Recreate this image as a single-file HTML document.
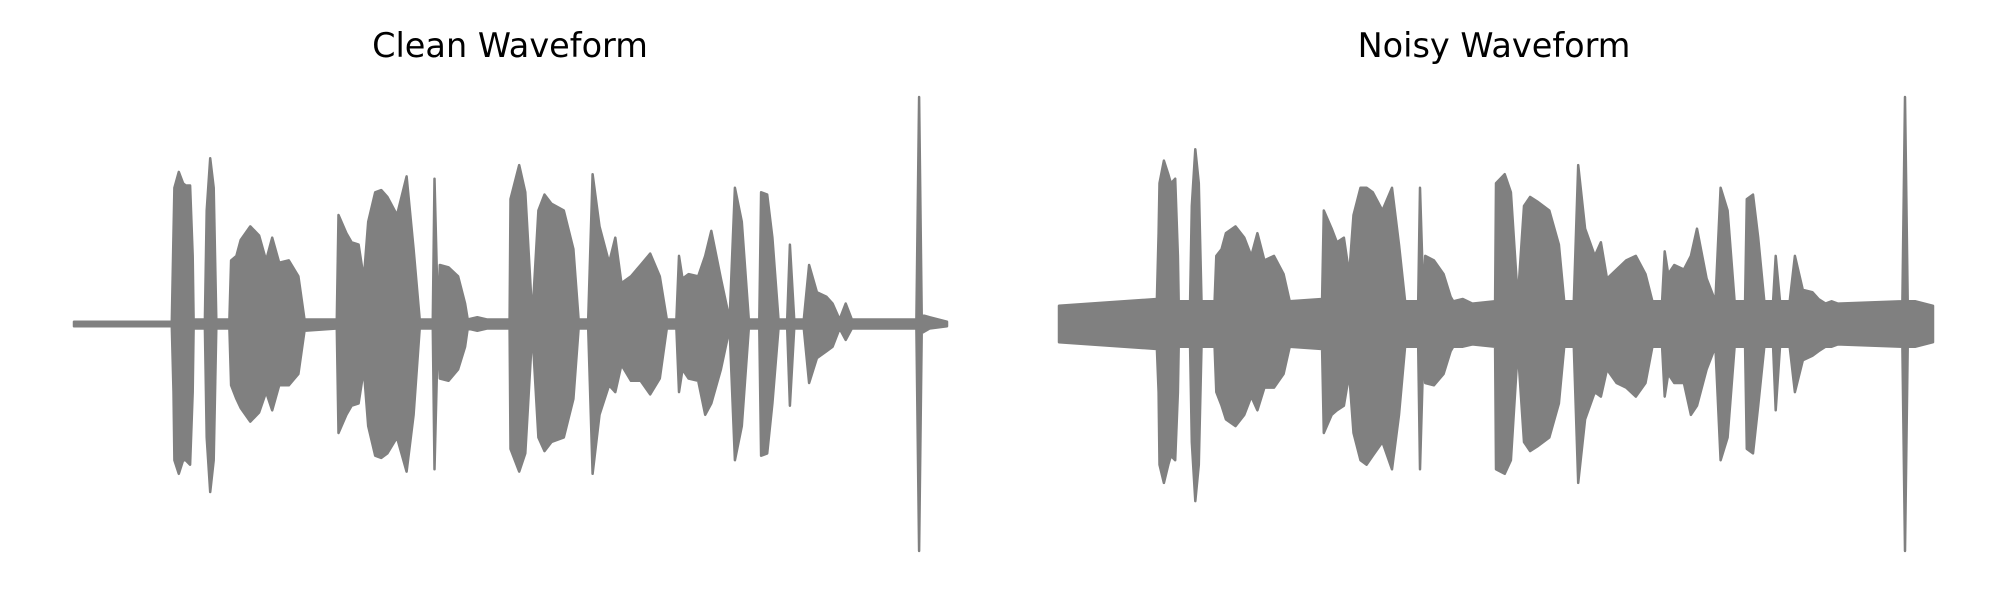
<!DOCTYPE html>
<html><head><meta charset="utf-8">
<style>
html,body{margin:0;padding:0;background:#fff;}
svg{display:block;}
text{font-family:"DejaVu Sans","Liberation Sans",sans-serif;}
</style></head>
<body>
<svg id="chart" width="2000" height="600" viewBox="0 0 2000 600">
  <text x="510" y="57" font-size="33.5" text-anchor="middle" fill="#000">Clean Waveform</text>
  <text x="1494" y="57" font-size="33.5" text-anchor="middle" fill="#000">Noisy Waveform</text>
  <g id="clean"></g>
  <g id="noisy"></g>
</svg>
<script>
// time (% of clip duration)
const times = [0,11.2,11.4,11.5,12.0,12.5,12.8,13.3,13.6,13.7,15.0,15.2,15.6,16.0,16.3,17.8,18.0,18.6,19.1,20.2,21.2,22.0,22.7,23.5,24.6,25.7,26.4,30.1,30.3,31.2,31.8,32.6,33.2,33.7,34.5,35.2,35.9,37.0,38.1,38.9,39.6,41.1,41.3,41.7,41.9,42.9,44.0,44.8,45.1,46.2,47.3,49.9,50.0,51.0,51.7,52.5,53.2,53.9,54.7,56.1,57.2,57.8,58.9,59.4,60.2,61.3,62.0,62.7,63.8,64.9,66.0,67.1,67.9,69.0,69.3,69.7,70.4,71.5,72.3,73.0,74.1,75.1,75.7,76.5,77.3,78.5,78.7,79.4,80.0,80.7,81.7,82.0,82.5,83.6,84.2,85.1,86.2,86.9,87.7,88.4,89.1,96.5,96.8,97.1,98.0,100];
// clean envelope (positive amplitude, normalized)
const cleanTop = [0.01,0.01,0.4,0.6,0.67,0.62,0.61,0.61,0.3,0.02,0.02,0.5,0.73,0.6,0.02,0.02,0.28,0.3,0.37,0.43,0.39,0.28,0.38,0.27,0.28,0.21,0.02,0.02,0.48,0.4,0.36,0.35,0.2,0.45,0.58,0.59,0.56,0.48,0.65,0.33,0.02,0.02,0.64,0.02,0.26,0.25,0.21,0.09,0.02,0.03,0.02,0.02,0.55,0.7,0.58,0.03,0.5,0.57,0.53,0.5,0.33,0.02,0.02,0.66,0.43,0.27,0.38,0.18,0.21,0.26,0.31,0.21,0.02,0.02,0.3,0.2,0.22,0.21,0.3,0.41,0.2,0.02,0.6,0.45,0.02,0.02,0.58,0.57,0.38,0.02,0.02,0.35,0.02,0.02,0.26,0.14,0.12,0.09,0.02,0.09,0.02,0.02,1.0,0.04,0.03,0.01];
// clean envelope (negative side magnitude)
const cleanBot = [0.01,0.01,0.3,0.6,0.66,0.6,0.6,0.62,0.3,0.02,0.02,0.5,0.74,0.6,0.02,0.02,0.27,0.33,0.37,0.43,0.39,0.3,0.38,0.27,0.27,0.22,0.03,0.02,0.48,0.4,0.36,0.35,0.2,0.45,0.58,0.59,0.57,0.5,0.65,0.4,0.02,0.02,0.64,0.02,0.24,0.25,0.2,0.1,0.02,0.03,0.02,0.02,0.55,0.65,0.57,0.03,0.5,0.56,0.52,0.5,0.33,0.02,0.02,0.66,0.4,0.27,0.3,0.18,0.25,0.25,0.31,0.24,0.02,0.02,0.3,0.2,0.24,0.25,0.4,0.35,0.2,0.02,0.6,0.45,0.02,0.02,0.58,0.57,0.35,0.02,0.02,0.36,0.02,0.02,0.26,0.15,0.12,0.1,0.02,0.07,0.02,0.02,1.0,0.04,0.02,0.01];
// noisy envelope
const noisyTop = [0.08,0.11,0.4,0.62,0.72,0.66,0.62,0.64,0.3,0.1,0.1,0.52,0.77,0.62,0.1,0.1,0.3,0.33,0.4,0.43,0.38,0.3,0.4,0.28,0.3,0.22,0.1,0.11,0.5,0.42,0.36,0.38,0.22,0.48,0.6,0.6,0.58,0.5,0.6,0.35,0.1,0.1,0.6,0.1,0.3,0.28,0.22,0.12,0.1,0.11,0.09,0.1,0.62,0.66,0.58,0.11,0.52,0.56,0.54,0.5,0.35,0.1,0.1,0.7,0.42,0.3,0.36,0.2,0.24,0.28,0.3,0.22,0.1,0.1,0.32,0.22,0.26,0.24,0.3,0.42,0.2,0.1,0.6,0.5,0.1,0.1,0.55,0.57,0.38,0.1,0.1,0.3,0.1,0.1,0.3,0.15,0.14,0.11,0.09,0.1,0.09,0.1,1.0,0.1,0.1,0.08];
const noisyBot = [0.08,0.11,0.3,0.62,0.7,0.62,0.58,0.6,0.3,0.1,0.1,0.52,0.78,0.62,0.1,0.1,0.3,0.36,0.42,0.45,0.4,0.32,0.38,0.28,0.28,0.22,0.1,0.11,0.48,0.4,0.38,0.36,0.22,0.48,0.6,0.62,0.58,0.52,0.64,0.4,0.1,0.1,0.64,0.1,0.26,0.27,0.22,0.12,0.1,0.1,0.09,0.1,0.64,0.66,0.6,0.11,0.52,0.56,0.54,0.5,0.35,0.1,0.1,0.7,0.42,0.3,0.32,0.2,0.26,0.28,0.32,0.26,0.1,0.1,0.32,0.22,0.26,0.26,0.4,0.36,0.2,0.1,0.6,0.5,0.1,0.1,0.55,0.57,0.36,0.1,0.1,0.38,0.1,0.1,0.3,0.16,0.14,0.12,0.1,0.1,0.09,0.1,1.0,0.1,0.1,0.08];

const NS = "http://www.w3.org/2000/svg";
const yC = 324, yS = 227;
function draw(gid, x0, x1, top, bot, name) {
  const g = document.getElementById(gid);
  const xs = t => x0 + t / 100 * (x1 - x0);
  const ys = a => yC - a * yS;
  let pts = [];
  for (let i = 0; i < times.length; i++) pts.push(xs(times[i]).toFixed(1) + "," + ys(top[i]).toFixed(1));
  for (let i = times.length - 1; i >= 0; i--) pts.push(xs(times[i]).toFixed(1) + "," + ys(-bot[i]).toFixed(1));
  const p = document.createElementNS(NS, "polygon");
  p.setAttribute("points", pts.join(" "));
  p.setAttribute("fill", "#808080");
  p.setAttribute("stroke", "#808080");
  p.setAttribute("stroke-width", "2.5");
  p.setAttribute("stroke-linejoin", "round");
  
  
  g.appendChild(p);
}
draw("clean", 74, 947, cleanTop, cleanBot, "clean-waveform-area");
draw("noisy", 1059, 1933, noisyTop, noisyBot, "noisy-waveform-area");
</script>
</body></html>
